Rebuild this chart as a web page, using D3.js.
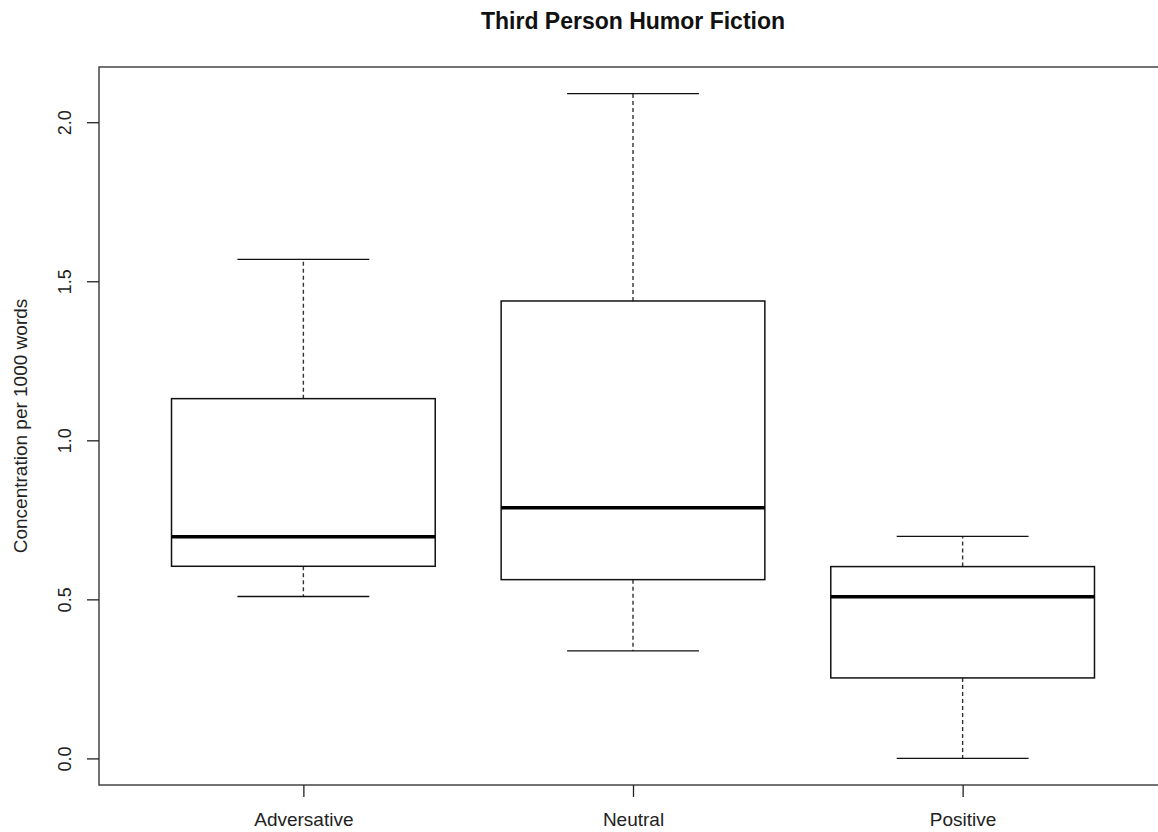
<!DOCTYPE html>
<html><head><meta charset="utf-8">
<script src="https://cdn.jsdelivr.net/npm/d3@7"></script>
<style>body{margin:0;background:#fff}svg{display:block}</style>
</head><body>
<script>
const categories = ["Adversative", "Neutral", "Positive"];
const lowerWhisker = [0.509, 0.338, 0.000];
const q1 = [0.604, 0.562, 0.253];
const median = [0.697, 0.788, 0.508];
const q3 = [1.131, 1.438, 0.603];
const upperWhisker = [1.569, 2.090, 0.698];
const yTicks = [0.0, 0.5, 1.0, 1.5, 2.0];
const title = "Third Person Humor Fiction";
const yLabel = "Concentration per 1000 words";

(function () {
const W = 1158, H = 832;
const FONT = "Liberation Sans, Arial, sans-serif";
const svg = d3.select("body").append("svg").attr("width", W).attr("height", H);
const pLeft = 99, pRight = 1167, pTop = 67, pBottom = 785;

const n = categories.length;
const xr = [0.5 - 0.04 * n, n + 0.5 + 0.04 * n];
const x = d3.scaleLinear().domain(xr).range([pLeft, pRight]);
const ymax = d3.max(upperWhisker), ymin = d3.min(lowerWhisker);
const pad = (ymax - ymin) * 0.04;
const y = d3.scaleLinear().domain([ymin - pad, ymax + pad]).range([pBottom, pTop]);

const boxHalf = (x(1.4) - x(1));
const data = categories.map((c, i) => ({c, i: i + 1, lw: lowerWhisker[i], q1: q1[i], med: median[i], q3: q3[i], uw: upperWhisker[i]}));

const g = svg.append("g");
const bx = g.selectAll("g.box").data(data).join("g").attr("class", "box");
bx.append("line").attr("x1", d => x(d.i)).attr("x2", d => x(d.i)).attr("y1", d => y(d.q3)).attr("y2", d => y(d.uw))
  .attr("stroke", "#333").attr("stroke-width", 1.4).attr("stroke-dasharray", "4,3");
bx.append("line").attr("x1", d => x(d.i)).attr("x2", d => x(d.i)).attr("y1", d => y(d.q1)).attr("y2", d => y(d.lw))
  .attr("stroke", "#333").attr("stroke-width", 1.4).attr("stroke-dasharray", "4,3");
["uw", "lw"].forEach(k => {
  bx.append("line").attr("x1", d => x(d.i) - boxHalf / 2).attr("x2", d => x(d.i) + boxHalf / 2)
    .attr("y1", d => y(d[k])).attr("y2", d => y(d[k])).attr("stroke", "#111").attr("stroke-width", 1.3);
});
bx.append("rect").attr("x", d => x(d.i) - boxHalf).attr("width", 2 * boxHalf)
  .attr("y", d => y(d.q3)).attr("height", d => y(d.q1) - y(d.q3))
  .attr("fill", "none").attr("stroke", "#111").attr("stroke-width", 1.5);
bx.append("line").attr("x1", d => x(d.i) - boxHalf).attr("x2", d => x(d.i) + boxHalf)
  .attr("y1", d => y(d.med)).attr("y2", d => y(d.med)).attr("stroke", "#000").attr("stroke-width", 3.5);

svg.append("rect").attr("x", pLeft).attr("y", pTop).attr("width", pRight - pLeft).attr("height", pBottom - pTop)
  .attr("fill", "none").attr("stroke", "#444").attr("stroke-width", 1.5);

const yAxis = d3.axisLeft(y).tickValues(yTicks).tickFormat(d3.format(".1f")).tickSize(12).tickPadding(0);
const ya = svg.append("g").attr("transform", `translate(${pLeft},0)`).call(yAxis);
ya.select(".domain").remove();
ya.selectAll(".tick line").attr("stroke", "#222").attr("stroke-width", 1.3);
ya.selectAll(".tick text").attr("transform", "translate(-28,0) rotate(-90)").attr("x", 0).attr("dy", 0)
  .attr("text-anchor", "middle").attr("font-family", FONT).attr("font-size", 18).attr("fill", "#222");

const xAxis = d3.axisBottom(x).tickValues(data.map(d => d.i)).tickFormat(v => categories[v - 1]).tickSize(12).tickPadding(16);
const xa = svg.append("g").attr("transform", `translate(0,${pBottom})`).call(xAxis);
xa.select(".domain").remove();
xa.selectAll(".tick line").attr("stroke", "#222").attr("stroke-width", 1.3);
xa.selectAll(".tick text").attr("font-family", FONT).attr("font-size", 19).attr("fill", "#222");

svg.append("text").attr("x", (pLeft + pRight) / 2).attr("y", 29).attr("text-anchor", "middle")
  .attr("font-family", FONT).attr("font-weight", "bold").attr("font-size", 23).attr("fill", "#111").text(title);
svg.append("text").attr("transform", `translate(27,${(pTop + pBottom) / 2}) rotate(-90)`).attr("text-anchor", "middle")
  .attr("font-family", FONT).attr("font-size", 19).attr("fill", "#222").text(yLabel);
})();
</script>
</body></html>
